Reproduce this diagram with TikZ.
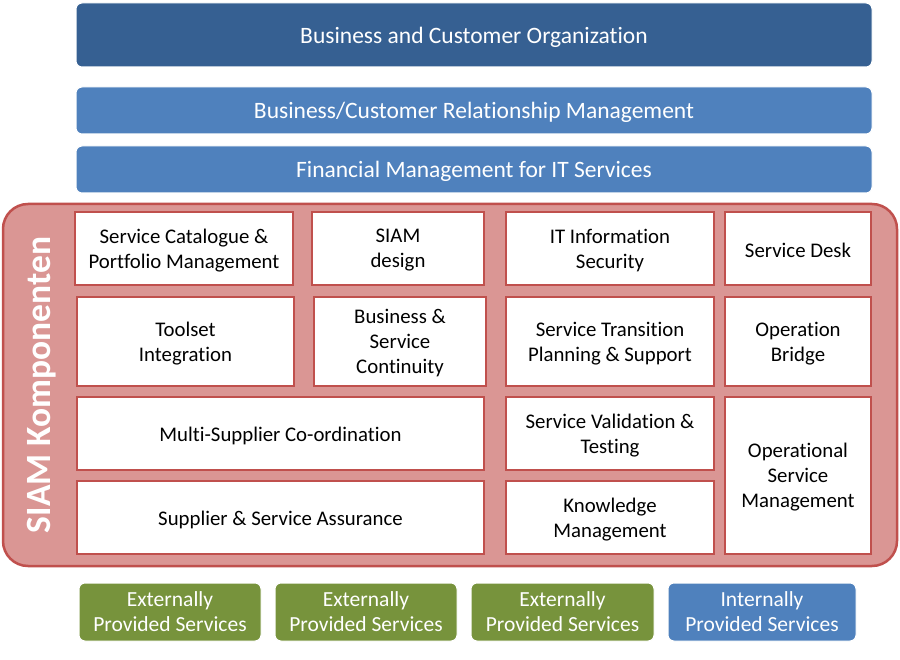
\documentclass[tikz,border=0pt]{standalone}
\usepackage{fontspec}
\setmainfont{Carlito}[Ligatures=NoCommon]

\definecolor{orgblue}{RGB}{54,96,146}
\definecolor{barblue}{RGB}{79,129,189}
\definecolor{siamred}{RGB}{192,80,77}
\definecolor{siampink}{RGB}{218,150,148}
\definecolor{extgreen}{RGB}{119,147,60}

\newcommand{\lowstrut}{\rule{0pt}{\dimexpr 0.69em+4pt\relax}}

\tikzset{
  bar/.style={rectangle, rounded corners=6pt, fill=barblue, draw=white, line width=1pt,
    text=white, font=\fontsize{23.5}{25}\selectfont, minimum width=796pt, minimum height=47pt,
    execute at begin node=\lowstrut},
  comp/.style={rectangle, fill=white, draw=siamred, line width=2pt, align=center,
    font=\fontsize{20.8}{25}\selectfont, inner sep=0pt, execute at begin node=\lowstrut},
  lines/.style={text depth=-1pt},
  supply/.style={rectangle, rounded corners=6pt, draw=white, line width=1pt, text=white,
    align=center, font=\fontsize{21.5}{25}\selectfont, minimum height=58pt, inner sep=0pt,
    text depth=-2.5pt}
}

\begin{document}
\begin{tikzpicture}[x=1pt, y=-1pt]
  \useasboundingbox[fill=white] (0,0) rectangle (900,660);
  % top layers
  \node[bar, fill=orgblue, minimum height=64pt] (org) at (474,35) {Business and Customer Organization};
  \node[bar] (brm) at (474,110.5) {Business/Customer Relationship Management};
  \node[bar] (fin) at (474,169.5) {Financial Management for IT Services};
  % siam frame
  \node[rectangle, rounded corners=25pt, fill=siampink, draw=siamred, line width=2.5pt,
    minimum width=894pt, minimum height=362pt] (siam) at (450,385) {};
  \node[rotate=90, text=white, font=\fontsize{35.5}{40}\selectfont\bfseries] (siamlabel) at (42,385) {SIAM Komponenten};
  % row 1
  \node[comp, lines, minimum width=218pt, minimum height=73pt] (catalogue) at (184,248.5) {Service Catalogue \&\\Portfolio Management};
  \node[comp, lines, minimum width=172pt, minimum height=73pt] (design) at (398,248.5) {SIAM\\design};
  \node[comp, lines, minimum width=208pt, minimum height=73pt] (security) at (610,248.5) {IT Information\\Security};
  \node[comp, minimum width=146pt, minimum height=73pt] (desk) at (798,248.5) {Service Desk};
  % row 2
  \node[comp, lines, minimum width=217pt, minimum height=89pt] (toolset) at (185.5,341.5) {Toolset\\Integration};
  \node[comp, lines, minimum width=172pt, minimum height=89pt] (continuity) at (400,341.5) {Business \&\\Service\\Continuity};
  \node[comp, lines, minimum width=208pt, minimum height=89pt] (transition) at (610,341.5) {Service Transition\\Planning \& Support};
  \node[comp, lines, minimum width=146pt, minimum height=89pt] (bridge) at (798,341.5) {Operation\\Bridge};
  % row 3 and 4
  \node[comp, minimum width=407pt, minimum height=73pt] (supplier) at (280.5,433.5) {Multi-Supplier Co-ordination};
  \node[comp, lines, minimum width=208pt, minimum height=73pt] (validation) at (610,433.5) {Service Validation \&\\Testing};
  \node[comp, lines, minimum width=146pt, minimum height=157pt] (operational) at (798,475.5) {Operational\\Service\\Management};
  \node[comp, minimum width=407pt, minimum height=73pt] (assurance) at (280.5,517.5) {Supplier \& Service Assurance};
  \node[comp, lines, minimum width=208pt, minimum height=73pt] (knowledge) at (610,517.5) {Knowledge\\Management};
  % provided services
  \foreach \name/\x/\w in {extA/170/182, extB/366/182, extC/562.5/183}
    \node[supply, fill=extgreen, minimum width=\w pt] (\name) at (\x,612) {Externally\\Provided Services};
  \node[supply, fill=barblue, minimum width=188pt] (intern) at (762,612) {Internally\\Provided Services};
\end{tikzpicture}
\end{document}
